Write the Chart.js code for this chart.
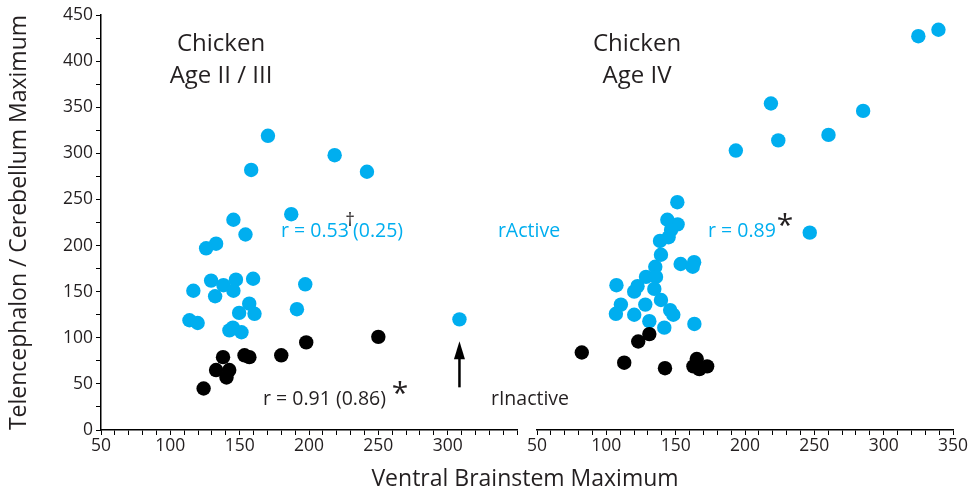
<!DOCTYPE html>
<html>
<head>
<meta charset="utf-8">
<script src="https://cdn.jsdelivr.net/npm/chart.js@4.4.0/dist/chart.umd.min.js"></script>
<style>
  html,body{margin:0;padding:0;background:#fff;}
  #wrap{position:relative;width:972px;height:493px;}
  canvas{position:absolute;left:0;top:0;}
</style>
</head>
<body>
<div id="wrap">
  <canvas id="left" width="972" height="493"></canvas>
  <canvas id="right" width="972" height="493"></canvas>
</div>
<script>
// ---- Data ----
// Left panel: Chicken Age II / III
const leftActiveX   = [170.4,218.5,158.3,241.8,187.2,145.5,154.2,133,125.8,129.4,138.3,147.3,159.7,145.5,116.6,132.3,197.3,156.9,149.6,160.7,191.3,113.8,119.7,145.1,142.6,151.3,308.5];
const leftActiveY   = [319,298,282,280,234,228,212,202,197,162,157,163,164,151,151,145,158,137,127,126,131,119,116,111,108,106,120];
const leftInactiveX = [250,198,180,153.5,157,138,133,142.5,140.5,124];
const leftInactiveY = [101,95,81,81,79,79,65,65,57,45];
// Right panel: Chicken Age IV
const rightActiveX   = [339.5,325,218.7,285.2,260.2,224,193.4,246.7,151.2,144,151.4,146.7,138.7,144.9,139.4,153.6,163.3,162.3,135.3,128.6,135.8,107.3,122.5,120.1,134.6,139.4,128.1,110.5,106.9,120.1,146,148.3,131,141.8,163.5];
const rightActiveY   = [434,427,354,346,320,314,303,214,247,228,223,217,205,209,190,180,182,177,177,166,166,157,156,150,153,141,136,136,126,125,130,125,118,111,115];
const rightInactiveX = [131,123,82.3,112.9,142.3,165.2,162.8,167.1,172.7];
const rightInactiveY = [104,96,84,73,67,77,69,66,69];

const xMin = 50, xMax = 350, yMin = 0, yMax = 450;
const leftXLabels  = [50,100,150,200,250,300];
const rightXLabels = [50,100,150,200,250,300,350];
const yLabels      = [0,50,100,150,200,250,300,350,400,450];

const BLUE = '#00AEEF';
const DARK = '#231F20';
const FONT = '"Open Sans", Lato, sans-serif';

function pts(xs, ys){ return xs.map((x,i)=>({x:x,y:ys[i]})); }

function xScale(labels){
  return {
    type:'linear', min:xMin, max:xMax,
    grid:{display:true, drawOnChartArea:false, drawTicks:true, tickLength:5, color:'#000', lineWidth:1},
    border:{display:true, color:'#000', width:1.5},
    ticks:{stepSize:10, autoSkip:false, maxRotation:0, padding:1, color:DARK,
      font:{family:FONT, size:17.5},
      callback:(v)=> labels.includes(v) ? String(v) : ''},
    afterFit:(s)=>{ s.height = 63; }
  };
}

const baseOptions = {
  responsive:false, animation:false, events:[],
  plugins:{legend:{display:false}, tooltip:{enabled:false}},
};

function star(ctx, cx, cy){
  ctx.save();
  ctx.font = '30px ' + FONT;
  ctx.textAlign = 'center';
  ctx.textBaseline = 'alphabetic';
  ctx.fillStyle = DARK;
  ctx.fillText('*', cx, cy + 14);
  ctx.restore();
}

// Annotation plugin for the left canvas (texts, arrow, axis title)
const annot = {
  id:'annot',
  afterDraw(chart){
    const ctx = chart.ctx;
    const xs = chart.scales.x, ys = chart.scales.y;
    ctx.save();
    ctx.textBaseline = 'alphabetic';
    // panel titles
    ctx.fillStyle = DARK;
    ctx.font = '24px ' + FONT;
    ctx.textAlign = 'center';
    ctx.fillText('Chicken', 221, 51);
    ctx.fillText('Age II / III', 221, 83);
    ctx.fillText('Chicken', 637, 51);
    ctx.fillText('Age IV', 637, 83);
    // correlation labels
    const F = '19.5px ' + FONT;
    ctx.textAlign = 'left';
    ctx.font = F;
    ctx.fillStyle = BLUE;
    ctx.fillText('r = 0.53', 281, 237);
    ctx.fillStyle = DARK;
    ctx.font = '19px ' + FONT;
    ctx.textAlign = 'center';
    ctx.fillText('\u2020', 350, 226);
    ctx.font = F;
    ctx.fillStyle = BLUE;
    ctx.textAlign = 'left';
    ctx.fillText('(0.25)', 353, 237);
    ctx.textAlign = 'center';
    ctx.fillText('rActive', 529, 237);
    ctx.textAlign = 'left';
    ctx.fillText('r = 0.89', 708, 237);
    star(ctx, 785, 221);
    ctx.fillStyle = DARK;
    ctx.font = F;
    ctx.fillText('r = 0.91 (0.86)', 263, 405);
    star(ctx, 400, 389);
    ctx.fillStyle = DARK;
    ctx.font = F;
    ctx.textAlign = 'center';
    ctx.fillText('rInactive', 530, 405);
    // arrow under the outlier
    const ax = xs.getPixelForValue(leftActiveX[leftActiveX.length-1]);
    const ay = ys.getPixelForValue(leftActiveY[leftActiveY.length-1]);
    ctx.strokeStyle = '#000';
    ctx.fillStyle = '#000';
    ctx.lineWidth = 2.5;
    ctx.beginPath();
    ctx.moveTo(ax, ay + 68);
    ctx.lineTo(ax, ay + 36);
    ctx.stroke();
    ctx.beginPath();
    ctx.moveTo(ax, ay + 22);
    ctx.lineTo(ax - 5.5, ay + 40);
    ctx.lineTo(ax + 5.5, ay + 40);
    ctx.closePath();
    ctx.fill();
    // x axis title
    ctx.fillStyle = DARK;
    ctx.font = '23px ' + FONT;
    ctx.textAlign = 'center';
    ctx.fillText('Ventral Brainstem Maximum', 525, 486);
    ctx.restore();
  }
};

const yScale = {
  type:'linear', min:yMin, max:yMax,
  grid:{display:true, drawOnChartArea:false, drawTicks:true, tickLength:5, color:'#000', lineWidth:1},
  border:{display:true, color:'#000', width:1.5},
  ticks:{stepSize:25, autoSkip:false, padding:3, color:DARK,
    font:{family:FONT, size:17.5},
    callback:(v)=> yLabels.includes(v) ? String(v) : ''},
  title:{display:true, text:'Telencephalon / Cerebellum Maximum', color:DARK,
    font:{family:FONT, size:23}, padding:{top:6, bottom:0}},
  afterFit:(s)=>{ s.width = 101; }
};

new Chart(document.getElementById('left'), {
  type:'scatter',
  data:{datasets:[
    {data:pts(leftInactiveX, leftInactiveY), backgroundColor:'#000', borderWidth:0, pointRadius:7.2},
    {data:pts(leftActiveX, leftActiveY), backgroundColor:BLUE, borderWidth:0, pointRadius:7.2}
  ]},
  options:Object.assign({}, baseOptions, {
    layout:{padding:{left:0, right:455, top:15, bottom:0}},
    scales:{ x:xScale(leftXLabels), y:yScale }
  }),
  plugins:[annot]
});

new Chart(document.getElementById('right'), {
  type:'scatter',
  data:{datasets:[
    {data:pts(rightInactiveX, rightInactiveY), backgroundColor:'#000', borderWidth:0, pointRadius:7.2},
    {data:pts(rightActiveX, rightActiveY), backgroundColor:BLUE, borderWidth:0, pointRadius:7.2}
  ]},
  options:Object.assign({}, baseOptions, {
    layout:{padding:{left:537, right:19, top:15, bottom:0}},
    scales:{ x:xScale(rightXLabels), y:{type:'linear', min:yMin, max:yMax, display:false} }
  })
});
</script>
</body>
</html>
